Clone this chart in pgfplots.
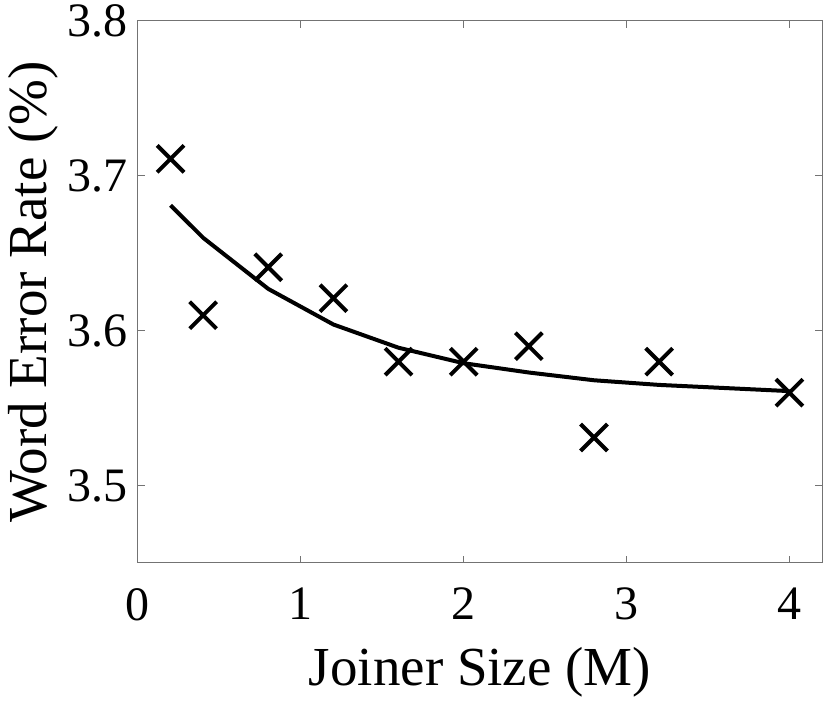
\documentclass[border=0pt]{standalone}
\usepackage{fontspec}
\setmainfont{Liberation Serif}
\usepackage{pgfplots}
\pgfplotsset{compat=1.18}
\begin{document}
\begin{tikzpicture}
\useasboundingbox (0,0) rectangle (830pt,701pt);
\begin{axis}[
  at={(138pt,138pt)}, anchor=south west,
  scale only axis, width=684pt, height=542pt,
  xmin=0, xmax=4.2, ymin=3.45, ymax=3.8,
  xtick={0,1,2,3,4}, ytick={3.5,3.6,3.7,3.8},
  /pgf/number format/assume math mode=true,
  yticklabel style={/pgf/number format/fixed, /pgf/number format/precision=1, /pgf/number format/fixed zerofill},
  tick align=inside, major tick length=7pt,
  xtick pos=both, ytick pos=both,
  axis line style={draw=black!55, line width=1pt},
  every tick/.style={draw=black!55, line width=1pt},
  tick label style={font=\fontsize{48}{54}\selectfont},
  xticklabel style={anchor=north, inner sep=0pt, yshift=-25pt},
  yticklabel style={anchor=east, inner sep=0pt, xshift=-10pt},
  xlabel={Joiner Size (M)},
  ylabel={Word Error Rate (\%)},
  label style={font=\fontsize{55}{60}\selectfont},
  xlabel style={at={(axis description cs:0.5,0)}, anchor=base, inner sep=0pt, yshift=-122pt},
  ylabel style={at={(axis description cs:0,0.5)}, rotate=0, anchor=base, inner sep=0pt, yshift=91pt},
]
\addplot[black, line width=4pt, no marks] coordinates {
  (0.2,3.681) (0.4,3.660) (0.8,3.627) (1.2,3.604) (1.6,3.589) (2.0,3.579)
  (2.4,3.573) (2.8,3.568) (3.2,3.565) (4.0,3.561)
};
\addplot[only marks, mark=x, mark size=19pt, black, mark options={line width=4pt}] coordinates {
  (0.2,3.711) (0.4,3.610) (0.8,3.641) (1.2,3.621) (1.6,3.580) (2.0,3.580)
  (2.4,3.590) (2.8,3.531) (3.2,3.580) (4.0,3.560)
};
\end{axis}
\end{tikzpicture}
\end{document}
